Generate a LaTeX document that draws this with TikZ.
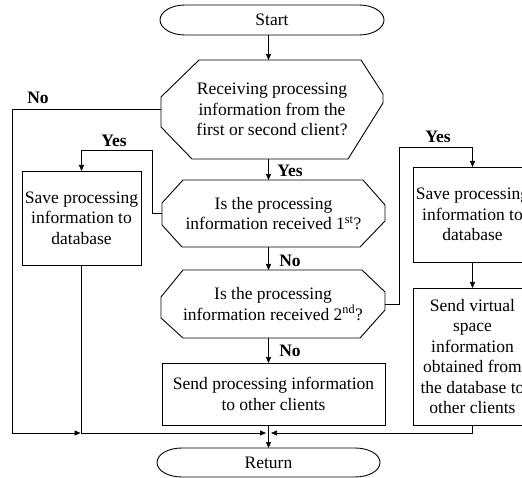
\documentclass[tikz,border=0pt]{standalone}
\usepackage{fontspec}
\setmainfont{Liberation Serif}
\usetikzlibrary{arrows.meta,calc}
\tikzset{
  base/.style={font=\fontsize{17.5}{20.5}\selectfont, align=center, inner sep=0pt, outer sep=0pt},
  box/.style={base, draw, line width=0.9pt},
  ghost/.style={base},
  shp/.style={draw, line width=0.9pt},
  conn/.style={line width=0.6pt},
  arr/.style={conn, -{Triangle[length=6pt,width=5pt]}},
  lbl/.style={font=\bfseries\fontsize{17.5}{20}\selectfont, inner sep=0pt},
}
\newcommand{\termdraw}[1]{%
  \draw[shp] ($(#1.north west)+(25,0)$) -- ($(#1.north east)+(-25,0)$)
    .. controls ($(#1.north east)+(-11.2,0)$) and ($(#1.east)+(0,-8.3)$) .. (#1.east)
    .. controls ($(#1.east)+(0,8.3)$) and ($(#1.south east)+(-11.2,0)$) .. ($(#1.south east)+(-25,0)$)
    -- ($(#1.south west)+(25,0)$)
    .. controls ($(#1.south west)+(11.2,0)$) and ($(#1.west)+(0,8.3)$) .. (#1.west)
    .. controls ($(#1.west)+(0,-8.3)$) and ($(#1.north west)+(11.2,0)$) .. ($(#1.north west)+(25,0)$) -- cycle;}
\begin{document}
\begin{tikzpicture}[x=1pt,y=-1pt]
\useasboundingbox (0,0) rectangle (522,478);
\clip (0,0) rectangle (522,478);
\fill[white] (0,0) rectangle (522,478);
\coordinate (ax) at (268.5,0);

% terminals
\node[ghost, minimum width=224pt, minimum height=30pt] (start) at (272,20) {Start};
\termdraw{start}
\node[ghost, minimum width=223pt, minimum height=29pt] (ret) at (268.5,462.5) {Return};
\termdraw{ret}

% decisions
\node[ghost, minimum width=222pt, minimum height=99pt] (d1) at (272,109.5)
  {Receiving processing\\information from the\\first or second client?};
\draw[shp] (199,60) -- (361,60) -- (383,94) -- (383,103) -- (348,159) -- (192,159) -- (161,127) -- (161,97) -- cycle;

\node[ghost, minimum width=223pt, minimum height=67pt] (d2) at (273.5,213.5)
  {Is the processing\\information received 1\textsuperscript{st}?};
\draw[shp] (183,180) -- (363,180) -- (385,205) -- (385,221) -- (360,247) -- (182,247) -- (162,225) -- (162,203) -- cycle;

\node[ghost, minimum width=224pt, minimum height=68pt] (d3) at (273,304)
  {Is the processing\\information received 2\textsuperscript{nd}?};
\draw[shp] (183,270) -- (362,270) -- (385,292) -- (385,310) -- (360,338) -- (183,338) -- (161,318) -- (161,297) -- cycle;

% process boxes
\node[box, minimum width=119pt, minimum height=94pt] (save1) at (81.5,218)
  {Save processing\\information to\\database};
\node[box, minimum width=223pt, minimum height=62pt] (send) at (273.5,394)
  {Send processing information\\to other clients};
\node[box, minimum width=119pt, minimum height=95pt] (save2) at (472.5,214.5)
  {Save processing\\information to\\database};
\node[box, minimum width=119pt, minimum height=137pt] (send2) at (472.5,356.5)
  {Send virtual\\space\\information\\obtained from\\the database to\\other clients};

% helper coordinates
\coordinate (yesL) at (81.5,150);
\coordinate (yesR) at (472.5,147);
\coordinate (jl) at (80.5,433);
\coordinate (jm) at (266,433);
\coordinate (jr) at (271,433);

% connectors
\draw[arr] (start.south -| ax) -- (d1.north -| ax);
\draw[arr] (d1.south -| ax) -- (d2.north -| ax);
\draw[arr] (d2.south -| ax) -- (d3.north -| ax);
\draw[arr] (d3.south -| ax) -- (send.north -| ax);
\draw[arr] (send.south -| ax) -- (ret.north -| ax);
\draw[arr] (d1.west) -- ++(-148.5,0) |- (jl);
\draw[arr] (d2.west) -- ++(-10,0) |- (yesL) -- (save1.north);
\draw[arr] (d3.east) -- ++(14,0) |- (yesR) -- (save2.north);
\draw[arr] (save2.south) -- (send2.north);
\draw[arr] (save1.south) |- (jm);
\draw[arr] (send2.south) |- (jr);

% labels
\node[lbl] (lNo1) at (38,98) {No};
\node[lbl] (lYes1) at (114,141) {Yes};
\node[lbl] (lYes2) at (290,171) {Yes};
\node[lbl] (lNo2) at (290,261) {No};
\node[lbl] (lNo3) at (290,351) {No};
\node[lbl] (lYes3) at (438,137) {Yes};
\end{tikzpicture}
\end{document}
